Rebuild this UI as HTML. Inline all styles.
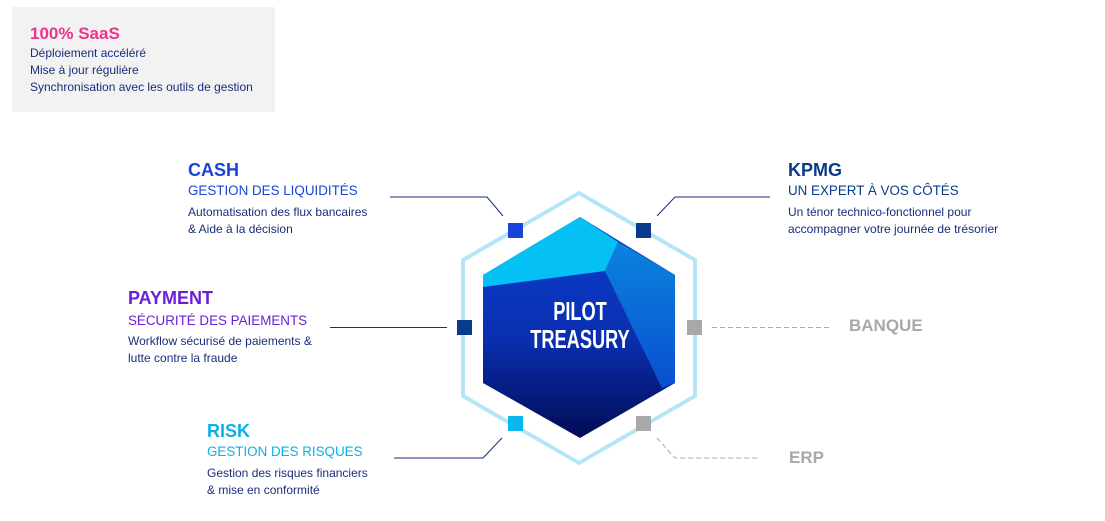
<!DOCTYPE html>
<html><head><meta charset="utf-8"><style>html,body{margin:0;padding:0;background:#fff}svg{display:block}text{font-family:"Liberation Sans",Arial,sans-serif}</style></head>
<body>
<svg width="1105" height="521" viewBox="0 0 1105 521" xmlns="http://www.w3.org/2000/svg">
<defs>
<linearGradient id="g" x1="0" y1="0" x2="0" y2="1">
<stop offset="0" stop-color="#0a3fd0"/><stop offset="0.55" stop-color="#0a2fb0"/><stop offset="1" stop-color="#020c55"/>
</linearGradient>
<linearGradient id="g2" x1="0" y1="0" x2="0" y2="1">
<stop offset="0" stop-color="#0a84dc"/><stop offset="1" stop-color="#0a4ed0"/>
</linearGradient>
</defs>
<rect x="12" y="7" width="263" height="105" fill="#f2f2f2"/>
<text x="30" y="39" font-size="17" font-weight="bold" fill="#e8348c">100% SaaS</text>
<g font-size="12" fill="#1a2e7a">
<text x="30" y="57">Déploiement accéléré</text>
<text x="30" y="74">Mise à jour régulière</text>
<text x="30" y="91">Synchronisation avec les outils de gestion</text>
</g>
<polygon points="579,193 695,260 695,396 579,463 463,396 463,260" fill="none" stroke="#b5e6f8" stroke-width="4"/>
<polygon points="580,217 675,275 675,383 580,438 483,383 483,275" fill="url(#g)"/>
<polygon points="580,217 618,242 605,271 483,287 483,275" fill="#05c0f2"/>
<polygon points="618,242 675,275 675,383 662,388 605,271" fill="url(#g2)"/>
<g font-family="'Liberation Sans Narrow','Liberation Sans',sans-serif" font-weight="bold" fill="#fff" text-anchor="middle">
<text x="580" y="320" font-size="26" transform="translate(580,0) scale(0.7,1) translate(-580,0)">PILOT</text>
<text x="580" y="348" font-size="26" transform="translate(580,0) scale(0.7,1) translate(-580,0)">TREASURY</text>
</g>
<rect x="508" y="223" width="15" height="15" fill="#1a44d8"/>
<rect x="636" y="223" width="15" height="15" fill="#0a3a8a"/>
<rect x="457" y="320" width="15" height="15" fill="#0a3a8a"/>
<rect x="687" y="320" width="15" height="15" fill="#a8a8a8"/>
<rect x="508" y="416" width="15" height="15" fill="#0ab8f0"/>
<rect x="636" y="416" width="15" height="15" fill="#a8a8a8"/>
<g fill="none" stroke="#1a2e7a" stroke-width="1">
<polyline points="390,197 487,197 503,216"/>
<polyline points="657,216 675,197 770,197"/>
<line x1="330" y1="327.5" x2="447" y2="327.5"/>
<polyline points="394,458 483,458 502,438"/>
</g>
<g fill="none" stroke="#a8a8a8" stroke-width="1" stroke-dasharray="5,3">
<line x1="712" y1="327.5" x2="830" y2="327.5"/>
<polyline points="657,438 675,458 760,458"/>
</g>
<text x="188" y="176" font-size="18" font-weight="bold" fill="#1a44d8">CASH</text>
<text x="188" y="195" font-size="13.4" fill="#1a44d8">GESTION DES LIQUIDITÉS</text>
<g font-size="12" fill="#1a2e7a"><text x="188" y="216">Automatisation des flux bancaires</text><text x="188" y="233">&amp; Aide à la décision</text></g>
<text x="128" y="304" font-size="18" font-weight="bold" fill="#6a1ed8">PAYMENT</text>
<text x="128" y="325" font-size="13.4" fill="#6a1ed8">SÉCURITÉ DES PAIEMENTS</text>
<g font-size="12" fill="#1a2e7a"><text x="128" y="345">Workflow sécurisé de paiements &amp;</text><text x="128" y="362">lutte contre la fraude</text></g>
<text x="207" y="437" font-size="18" font-weight="bold" fill="#0ab0ea">RISK</text>
<text x="207" y="456" font-size="13.4" fill="#0ab0ea">GESTION DES RISQUES</text>
<g font-size="12" fill="#1a2e7a"><text x="207" y="477">Gestion des risques financiers</text><text x="207" y="494">&amp; mise en conformité</text></g>
<text x="788" y="176" font-size="18" font-weight="bold" fill="#0a3a8a">KPMG</text>
<text x="788" y="195" font-size="13.4" fill="#0a3a8a">UN EXPERT À VOS CÔTÉS</text>
<g font-size="12" fill="#1a2e7a"><text x="788" y="216">Un ténor technico-fonctionnel pour</text><text x="788" y="233">accompagner votre journée de trésorier</text></g>
<text x="849" y="331" font-size="17" font-weight="bold" fill="#a8a8a8">BANQUE</text>
<text x="789" y="463" font-size="17" font-weight="bold" fill="#a8a8a8">ERP</text>
</svg>
</body></html>
